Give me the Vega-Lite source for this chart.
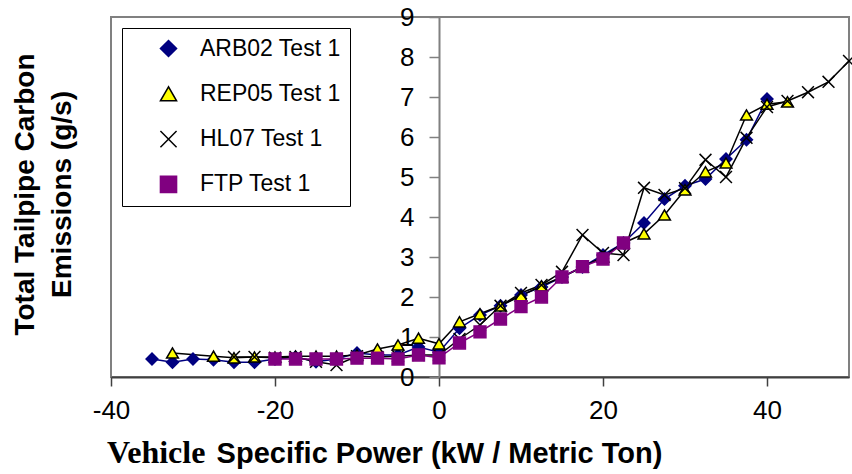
{
  "$schema": "https://vega.github.io/schema/vega-lite/v6.json",
  "width": 738,
  "height": 360,
  "autosize": "none",
  "padding": {"left": 111, "top": 17, "right": 3, "bottom": 97},
  "background": "white",
  "config": {
    "view": {"stroke": "#808080", "strokeWidth": 2},
    "font": "Liberation Sans"
  },
  "title": {
    "text": "Vehicle",
    "orient": "bottom",
    "anchor": "start",
    "frame": "group",
    "font": "Liberation Serif",
    "fontSize": 32,
    "fontWeight": "bold",
    "color": "black",
    "baseline": "alphabetic",
    "offset": -5,
    "dx": -4
  },
  "data": {
    "values": [
      {"series": "ARB02 Test 1", "vsp": -35, "co2": 0.45},
      {"series": "ARB02 Test 1", "vsp": -32.5, "co2": 0.37},
      {"series": "ARB02 Test 1", "vsp": -30, "co2": 0.45},
      {"series": "ARB02 Test 1", "vsp": -27.5, "co2": 0.43},
      {"series": "ARB02 Test 1", "vsp": -25, "co2": 0.37},
      {"series": "ARB02 Test 1", "vsp": -22.5, "co2": 0.37},
      {"series": "ARB02 Test 1", "vsp": -20, "co2": 0.45},
      {"series": "ARB02 Test 1", "vsp": -17.5, "co2": 0.5},
      {"series": "ARB02 Test 1", "vsp": -15, "co2": 0.38},
      {"series": "ARB02 Test 1", "vsp": -12.5, "co2": 0.45},
      {"series": "ARB02 Test 1", "vsp": -10, "co2": 0.6},
      {"series": "ARB02 Test 1", "vsp": -7.5, "co2": 0.55},
      {"series": "ARB02 Test 1", "vsp": -5, "co2": 0.55},
      {"series": "ARB02 Test 1", "vsp": -2.5, "co2": 0.75},
      {"series": "ARB02 Test 1", "vsp": 0, "co2": 0.62},
      {"series": "ARB02 Test 1", "vsp": 2.5, "co2": 1.22},
      {"series": "ARB02 Test 1", "vsp": 5, "co2": 1.55},
      {"series": "ARB02 Test 1", "vsp": 7.5, "co2": 1.78},
      {"series": "ARB02 Test 1", "vsp": 10, "co2": 2.05},
      {"series": "ARB02 Test 1", "vsp": 12.5, "co2": 2.25},
      {"series": "ARB02 Test 1", "vsp": 15, "co2": 2.5},
      {"series": "ARB02 Test 1", "vsp": 17.5, "co2": 2.75},
      {"series": "ARB02 Test 1", "vsp": 20, "co2": 3.05},
      {"series": "ARB02 Test 1", "vsp": 22.5, "co2": 3.35},
      {"series": "ARB02 Test 1", "vsp": 25, "co2": 3.85},
      {"series": "ARB02 Test 1", "vsp": 27.5, "co2": 4.45},
      {"series": "ARB02 Test 1", "vsp": 30, "co2": 4.78},
      {"series": "ARB02 Test 1", "vsp": 32.5, "co2": 4.95},
      {"series": "ARB02 Test 1", "vsp": 35, "co2": 5.45},
      {"series": "ARB02 Test 1", "vsp": 37.5, "co2": 5.93},
      {"series": "ARB02 Test 1", "vsp": 40, "co2": 6.95},
      {"series": "REP05 Test 1", "vsp": -32.5, "co2": 0.6},
      {"series": "REP05 Test 1", "vsp": -27.5, "co2": 0.52},
      {"series": "REP05 Test 1", "vsp": -25, "co2": 0.48},
      {"series": "REP05 Test 1", "vsp": -22.5, "co2": 0.5},
      {"series": "REP05 Test 1", "vsp": -20, "co2": 0.5},
      {"series": "REP05 Test 1", "vsp": -17.5, "co2": 0.52},
      {"series": "REP05 Test 1", "vsp": -15, "co2": 0.52},
      {"series": "REP05 Test 1", "vsp": -12.5, "co2": 0.52},
      {"series": "REP05 Test 1", "vsp": -10, "co2": 0.55},
      {"series": "REP05 Test 1", "vsp": -7.5, "co2": 0.7},
      {"series": "REP05 Test 1", "vsp": -5, "co2": 0.8},
      {"series": "REP05 Test 1", "vsp": -2.5, "co2": 0.97},
      {"series": "REP05 Test 1", "vsp": 0, "co2": 0.83},
      {"series": "REP05 Test 1", "vsp": 2.5, "co2": 1.38},
      {"series": "REP05 Test 1", "vsp": 5, "co2": 1.58},
      {"series": "REP05 Test 1", "vsp": 7.5, "co2": 1.78},
      {"series": "REP05 Test 1", "vsp": 10, "co2": 2.03},
      {"series": "REP05 Test 1", "vsp": 12.5, "co2": 2.28},
      {"series": "REP05 Test 1", "vsp": 15, "co2": 2.5},
      {"series": "REP05 Test 1", "vsp": 17.5, "co2": 2.75},
      {"series": "REP05 Test 1", "vsp": 20, "co2": 3.0},
      {"series": "REP05 Test 1", "vsp": 22.5, "co2": 3.35},
      {"series": "REP05 Test 1", "vsp": 25, "co2": 3.58},
      {"series": "REP05 Test 1", "vsp": 27.5, "co2": 4.05},
      {"series": "REP05 Test 1", "vsp": 30, "co2": 4.68},
      {"series": "REP05 Test 1", "vsp": 32.5, "co2": 5.13},
      {"series": "REP05 Test 1", "vsp": 35, "co2": 5.35},
      {"series": "REP05 Test 1", "vsp": 37.5, "co2": 6.55},
      {"series": "REP05 Test 1", "vsp": 40, "co2": 6.82},
      {"series": "REP05 Test 1", "vsp": 42.5, "co2": 6.88},
      {"series": "HL07 Test 1", "vsp": -25, "co2": 0.5},
      {"series": "HL07 Test 1", "vsp": -22.5, "co2": 0.5},
      {"series": "HL07 Test 1", "vsp": -20, "co2": 0.48},
      {"series": "HL07 Test 1", "vsp": -17.5, "co2": 0.5},
      {"series": "HL07 Test 1", "vsp": -15, "co2": 0.38},
      {"series": "HL07 Test 1", "vsp": -12.5, "co2": 0.3},
      {"series": "HL07 Test 1", "vsp": -10, "co2": 0.52},
      {"series": "HL07 Test 1", "vsp": -7.5, "co2": 0.5},
      {"series": "HL07 Test 1", "vsp": -5, "co2": 0.52},
      {"series": "HL07 Test 1", "vsp": -2.5, "co2": 0.55},
      {"series": "HL07 Test 1", "vsp": 0, "co2": 0.55},
      {"series": "HL07 Test 1", "vsp": 2.5, "co2": 0.95},
      {"series": "HL07 Test 1", "vsp": 5, "co2": 1.3},
      {"series": "HL07 Test 1", "vsp": 7.5, "co2": 1.78},
      {"series": "HL07 Test 1", "vsp": 10, "co2": 2.1},
      {"series": "HL07 Test 1", "vsp": 12.5, "co2": 2.3},
      {"series": "HL07 Test 1", "vsp": 15, "co2": 2.63},
      {"series": "HL07 Test 1", "vsp": 17.5, "co2": 3.55},
      {"series": "HL07 Test 1", "vsp": 20, "co2": 3.1},
      {"series": "HL07 Test 1", "vsp": 22.5, "co2": 3.05},
      {"series": "HL07 Test 1", "vsp": 25, "co2": 4.73},
      {"series": "HL07 Test 1", "vsp": 27.5, "co2": 4.55},
      {"series": "HL07 Test 1", "vsp": 30, "co2": 4.72},
      {"series": "HL07 Test 1", "vsp": 32.5, "co2": 5.43},
      {"series": "HL07 Test 1", "vsp": 35, "co2": 5.0},
      {"series": "HL07 Test 1", "vsp": 37.5, "co2": 5.98},
      {"series": "HL07 Test 1", "vsp": 40, "co2": 6.75},
      {"series": "HL07 Test 1", "vsp": 42.5, "co2": 6.9},
      {"series": "HL07 Test 1", "vsp": 45, "co2": 7.12},
      {"series": "HL07 Test 1", "vsp": 47.5, "co2": 7.38},
      {"series": "HL07 Test 1", "vsp": 50, "co2": 7.9},
      {"series": "FTP Test 1", "vsp": -20, "co2": 0.45},
      {"series": "FTP Test 1", "vsp": -17.5, "co2": 0.45},
      {"series": "FTP Test 1", "vsp": -15, "co2": 0.45},
      {"series": "FTP Test 1", "vsp": -12.5, "co2": 0.45},
      {"series": "FTP Test 1", "vsp": -10, "co2": 0.47},
      {"series": "FTP Test 1", "vsp": -7.5, "co2": 0.47},
      {"series": "FTP Test 1", "vsp": -5, "co2": 0.45},
      {"series": "FTP Test 1", "vsp": -2.5, "co2": 0.55},
      {"series": "FTP Test 1", "vsp": 0, "co2": 0.48},
      {"series": "FTP Test 1", "vsp": 2.5, "co2": 0.85},
      {"series": "FTP Test 1", "vsp": 5, "co2": 1.13},
      {"series": "FTP Test 1", "vsp": 7.5, "co2": 1.45},
      {"series": "FTP Test 1", "vsp": 10, "co2": 1.76},
      {"series": "FTP Test 1", "vsp": 12.5, "co2": 2.0},
      {"series": "FTP Test 1", "vsp": 15, "co2": 2.5},
      {"series": "FTP Test 1", "vsp": 17.5, "co2": 2.76},
      {"series": "FTP Test 1", "vsp": 20, "co2": 2.95},
      {"series": "FTP Test 1", "vsp": 22.5, "co2": 3.35}
    ]
  },
  "encoding": {
    "x": {
      "field": "vsp",
      "type": "quantitative",
      "scale": {"domain": [-40, 50], "nice": false, "zero": false},
      "axis": {
        "values": [-40, -20, 0, 20, 40],
        "labelExpr": "'' + datum.value",
        "grid": false,
        "title": "Specific Power (kW / Metric Ton)",
        "titleFont": "Liberation Sans",
        "titleFontSize": 29,
        "titleFontWeight": "bold",
        "titleColor": "black",
        "titleX": 328,
        "titleY": 85,
        "titleAlign": "center",
        "titleBaseline": "alphabetic",
        "labelFont": "Liberation Sans",
        "labelFontSize": 26,
        "labelColor": "black",
        "labelPadding": 11,
        "labelFlush": false,
        "tickSize": 9,
        "tickWidth": 1.5,
        "tickColor": "#404040",
        "domainColor": "#404040",
        "domainWidth": 2
      }
    },
    "y": {
      "field": "co2",
      "type": "quantitative",
      "scale": {"domain": [0, 9], "nice": false},
      "axis": {
        "offset": -328,
        "values": [0, 1, 2, 3, 4, 5, 6, 7, 8, 9],
        "grid": false,
        "title": ["Total Tailpipe Carbon", "Emissions (g/s)"],
        "titleFont": "Liberation Sans",
        "titleFontSize": 28,
        "titleFontWeight": "bold",
        "titleColor": "black",
        "titleAngle": 270,
        "titleX": -406,
        "titleY": 177,
        "titleAlign": "center",
        "titleBaseline": "alphabetic",
        "titleLineHeight": 37,
        "labelFont": "Liberation Sans",
        "labelFontSize": 26,
        "labelColor": "black",
        "labelPadding": 15,
        "tickSize": 10,
        "tickWidth": 1.5,
        "tickColor": "#808080",
        "domainColor": "#808080",
        "domainWidth": 2
      }
    }
  },
  "layer": [
    {
      "mark": {"type": "line", "strokeWidth": 1.5},
      "encoding": {
        "stroke": {
          "field": "series",
          "type": "nominal",
          "scale": {
            "domain": ["ARB02 Test 1", "REP05 Test 1", "HL07 Test 1", "FTP Test 1"],
            "range": ["#000080", "#000000", "#000000", "#800080"]
          }
        }
      }
    },
    {
      "mark": {"type": "point", "filled": true, "opacity": 1, "strokeWidth": 1.5},
      "encoding": {
        "shape": {
          "field": "series",
          "type": "nominal",
          "scale": {
            "domain": ["ARB02 Test 1", "REP05 Test 1", "HL07 Test 1", "FTP Test 1"],
            "range": ["diamond", "triangle-up", "M-1,-1L1,1M1,-1L-1,1", "square"]
          },
          "legend": {
            "title": null,
            "orient": "top-left",
            "offset": 11,
            "labelFont": "Liberation Sans",
            "labelFontSize": 23,
            "labelColor": "black",
            "symbolSize": 260,
            "symbolStrokeWidth": 1.5,
            "symbolOpacity": 1,
            "rowPadding": 21.3,
            "padding": 9,
            "strokeColor": "black",
            "fillColor": "white",
            "cornerRadius": 0,
            "symbolOffset": 26,
            "labelOffset": 20
          }
        },
        "fill": {
          "field": "series",
          "type": "nominal",
          "scale": {
            "domain": ["ARB02 Test 1", "REP05 Test 1", "HL07 Test 1", "FTP Test 1"],
            "range": ["#000080", "#FFFF00", "transparent", "#800080"]
          }
        },
        "stroke": {
          "field": "series",
          "type": "nominal"
        },
        "size": {"value": 140}
      }
    }
  ]
}
